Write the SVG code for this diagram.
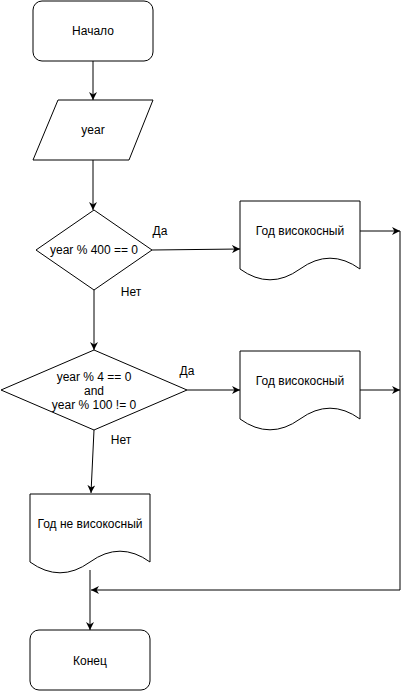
<svg xmlns="http://www.w3.org/2000/svg" width="409" height="691" viewBox="0 0 409 691">
<style>
.s{fill:#fff;stroke:#000;stroke-width:1}
.t{font-family:"Liberation Sans",Arial,sans-serif;font-size:12px;fill:#000;text-anchor:middle}
.c{fill:none;stroke:#000;stroke-width:1}
</style>
<defs>
<marker id="a" viewBox="0 0 10 10" refX="10" refY="5" markerWidth="8" markerHeight="8" markerUnits="userSpaceOnUse" orient="auto">
<path d="M0,0 L10,5 L0,10 L3,5 Z" fill="#000"/>
</marker>
</defs>
<rect width="409" height="691" fill="#fff"/>
<g id="connectors">
<path class="c" d="M93,61 V100" marker-end="url(#a)"/>
<path class="c" d="M93,160 V210" marker-end="url(#a)"/>
<path class="c" d="M94,290 V350" marker-end="url(#a)"/>
<path class="c" d="M94,430 L91,493" marker-end="url(#a)"/>
<path class="c" d="M90,570 V630" marker-end="url(#a)"/>
<path class="c" d="M400,231 V590 H91" marker-end="url(#a)"/>
<path class="c" d="M152,250 L240,249" marker-end="url(#a)"/>
<path class="c" d="M360,231 H400" marker-end="url(#a)"/>
<path class="c" d="M187,390 H240" marker-end="url(#a)"/>
<path class="c" d="M360,390 H400" marker-end="url(#a)"/>
<text class="t" x="160" y="235">Да</text>
<text class="t" x="131" y="296">Нет</text>
<text class="t" x="187" y="375">Да</text>
<text class="t" x="121" y="444">Нет</text>
</g>
<g id="start">
<rect class="s" x="33" y="1" width="120" height="60" rx="9" ry="9"/>
<text class="t" x="93" y="35">Начало</text>
</g>
<g id="input">
<path class="s" d="M58,100 H153 L129,160 H33 Z"/>
<text class="t" x="93" y="134">year</text>
</g>
<g id="cond1">
<path class="s" d="M94,210 L152,250 L94,290 L36,250 Z"/>
<text class="t" x="94" y="254">year % 400 == 0</text>
</g>
<g id="cond2">
<path class="s" d="M94,350 L187,390 L94,430 L1,390 Z"/>
<text class="t" x="94" y="381">year % 4 == 0</text>
<text class="t" x="94" y="395">and</text>
<text class="t" x="94" y="409">year % 100 != 0</text>
</g>
<g id="leap1">
<path class="s" d="M240,201 H360 V269 Q330,247.4 300,269 Q270,290.6 240,269 Z"/>
<text class="t" x="300" y="235">Год високосный</text>
</g>
<g id="leap2">
<path class="s" d="M240,351 H360 V419 Q330,397.4 300,419 Q270,440.6 240,419 Z"/>
<text class="t" x="300" y="385">Год високосный</text>
</g>
<g id="notleap">
<path class="s" d="M30,494 H150 V562 Q120,540.4 90,562 Q60,583.6 30,562 Z"/>
<text class="t" x="90" y="528">Год не високосный</text>
</g>
<g id="end">
<rect class="s" x="30" y="630" width="120" height="60" rx="9" ry="9"/>
<text class="t" x="90" y="665">Конец</text>
</g>
</svg>
